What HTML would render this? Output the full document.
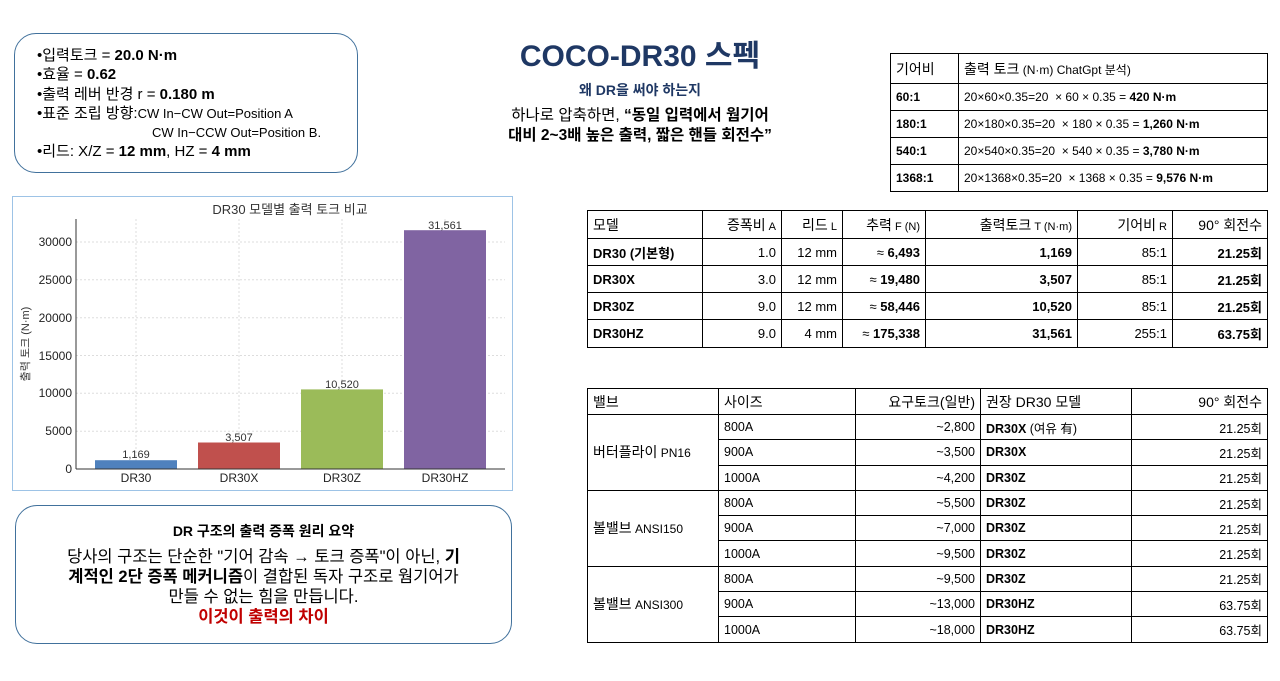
<!DOCTYPE html>
<html><head><meta charset="utf-8"><style>
*{margin:0;padding:0;box-sizing:border-box}
body{width:1280px;height:681px;background:#fff;position:relative;overflow:hidden;font-family:"Liberation Sans","Noto Sans CJK KR",sans-serif;color:#000}
.a{position:absolute}
.box{position:absolute;border:1px solid #41719c;border-radius:22px}
table{position:absolute;border-collapse:collapse;table-layout:fixed;font-size:13px}
td{border:1px solid #000;padding:0 5px;white-space:nowrap;overflow:hidden}
.r{text-align:right}.b{font-weight:bold}
</style></head><body>
<div class="box" style="left:14px;top:33px;width:344px;height:140px"></div>
<div class="a" style="left:37px;top:46px;font-size:15px;line-height:19.3px">
•입력토크 = <b>20.0 N·m</b><br>•효율 = <b>0.62</b><br>•출력 레버 반경 r = <b>0.180 m</b><br>•표준 조립 방향:<span style="font-size:13px">CW In−CW Out=Position A</span><br><span style="font-size:13px;padding-left:115px">CW In−CCW Out=Position B.</span><br>•리드: X/Z = <b>12 mm</b>, HZ = <b>4 mm</b></div>

<div class="a" style="left:440px;top:31px;width:400px;text-align:center;font-size:30px;font-weight:bold;color:#1f3864">COCO-DR30 스펙</div>
<div class="a" style="left:440px;top:80px;width:400px;text-align:center;font-size:14px;font-weight:bold;color:#1f3864">왜 DR을 써야 하는지</div>
<div class="a" style="left:440px;top:106px;width:400px;text-align:center;font-size:15.5px;line-height:20px">하나로 압축하면, <b>“동일 입력에서 웜기어<br>대비 2~3배 높은 출력, 짧은 핸들 회전수”</b></div>

<table style="left:890px;top:53px;width:378px">
<col style="width:68px"><col>
<tr style="height:30px"><td style="font-size:14px">기어비</td><td style="font-size:14px">출력 토크<span style="font-size:12px"> (N·m) ChatGpt 분석)</span></td></tr>
<tr style="height:27px"><td class="b" style="font-size:12px">60:1</td><td style="font-size:12px">20×60×0.35=20 &nbsp;× 60 × 0.35 = <b>420 N·m</b></td></tr>
<tr style="height:27px"><td class="b" style="font-size:12px">180:1</td><td style="font-size:12px">20×180×0.35=20 &nbsp;× 180 × 0.35 = <b>1,260 N·m</b></td></tr>
<tr style="height:27px"><td class="b" style="font-size:12px">540:1</td><td style="font-size:12px">20×540×0.35=20 &nbsp;× 540 × 0.35 = <b>3,780 N·m</b></td></tr>
<tr style="height:27px"><td class="b" style="font-size:12px">1368:1</td><td style="font-size:12px">20×1368×0.35=20 &nbsp;× 1368 × 0.35 = <b>9,576 N·m</b></td></tr>
</table>

<table style="left:587px;top:210px;width:681px">
<col style="width:115px"><col style="width:79px"><col style="width:61px"><col style="width:83px"><col style="width:152px"><col style="width:95px"><col>
<tr style="height:28px;font-size:14px"><td>모델</td><td class="r">증폭비<span style="font-size:11px"> A</span></td><td class="r">리드<span style="font-size:11px"> L</span></td><td class="r">추력<span style="font-size:11px"> F (N)</span></td><td class="r">출력토크<span style="font-size:11px"> T (N·m)</span></td><td class="r">기어비<span style="font-size:11px"> R</span></td><td class="r">90° 회전수</td></tr>
<tr style="height:27px"><td class="b">DR30 (기본형)</td><td class="r">1.0</td><td class="r">12 mm</td><td class="r">≈ <b>6,493</b></td><td class="r b">1,169</td><td class="r">85:1</td><td class="r b">21.25회</td></tr>
<tr style="height:27px"><td class="b">DR30X</td><td class="r">3.0</td><td class="r">12 mm</td><td class="r">≈ <b>19,480</b></td><td class="r b">3,507</td><td class="r">85:1</td><td class="r b">21.25회</td></tr>
<tr style="height:27px"><td class="b">DR30Z</td><td class="r">9.0</td><td class="r">12 mm</td><td class="r">≈ <b>58,446</b></td><td class="r b">10,520</td><td class="r">85:1</td><td class="r b">21.25회</td></tr>
<tr style="height:28px"><td class="b">DR30HZ</td><td class="r">9.0</td><td class="r">4 mm</td><td class="r">≈ <b>175,338</b></td><td class="r b">31,561</td><td class="r">255:1</td><td class="r b">63.75회</td></tr>
</table>

<table style="left:587px;top:388px;width:681px;font-size:12.5px">
<col style="width:131px"><col style="width:137px"><col style="width:125px"><col style="width:151px"><col>
<tr style="height:26px;font-size:14px"><td>밸브</td><td>사이즈</td><td class="r">요구토크(일반)</td><td>권장 DR30 모델</td><td class="r">90° 회전수</td></tr>
<tr style="height:25.3px"><td rowspan="3" style="font-size:14px">버터플라이<span style="font-size:12px"> PN16</span></td><td>800A</td><td class="r">~2,800</td><td><b>DR30X</b> (여유 有)</td><td class="r">21.25회</td></tr>
<tr style="height:25.3px"><td>900A</td><td class="r">~3,500</td><td class="b">DR30X</td><td class="r">21.25회</td></tr>
<tr style="height:25.3px"><td>1000A</td><td class="r">~4,200</td><td class="b">DR30Z</td><td class="r">21.25회</td></tr>
<tr style="height:25.3px"><td rowspan="3" style="font-size:14px">볼밸브<span style="font-size:12px"> ANSI150</span></td><td>800A</td><td class="r">~5,500</td><td class="b">DR30Z</td><td class="r">21.25회</td></tr>
<tr style="height:25.3px"><td>900A</td><td class="r">~7,000</td><td class="b">DR30Z</td><td class="r">21.25회</td></tr>
<tr style="height:25.3px"><td>1000A</td><td class="r">~9,500</td><td class="b">DR30Z</td><td class="r">21.25회</td></tr>
<tr style="height:25.3px"><td rowspan="3" style="font-size:14px">볼밸브<span style="font-size:12px"> ANSI300</span></td><td>800A</td><td class="r">~9,500</td><td class="b">DR30Z</td><td class="r">21.25회</td></tr>
<tr style="height:25.3px"><td>900A</td><td class="r">~13,000</td><td class="b">DR30HZ</td><td class="r">63.75회</td></tr>
<tr style="height:25.3px"><td>1000A</td><td class="r">~18,000</td><td class="b">DR30HZ</td><td class="r">63.75회</td></tr>
</table>

<svg class="a" style="left:0;top:0" width="520" height="500" font-family="Liberation Sans, DejaVu Sans, sans-serif">
<rect x="12.5" y="196.5" width="500" height="294" fill="#fff" stroke="#9dc3e6"/>
<text x="290" y="214" font-size="13" text-anchor="middle" fill="#333">DR30 모델별 출력 토크 비교</text>
<g stroke="#ddd" stroke-dasharray="2,2">
<line x1="76" x2="505" y1="393.3" y2="393.3"/><line x1="76" x2="505" y1="317.7" y2="317.7"/><line x1="76" x2="505" y1="242" y2="242"/>
<line x1="76" x2="505" y1="355.5" y2="355.5"/><line x1="76" x2="505" y1="279.8" y2="279.8"/><line x1="76" x2="505" y1="431.2" y2="431.2"/>
<line x1="136" x2="136" y1="219" y2="469"/><line x1="239" x2="239" y1="219" y2="469"/><line x1="342" x2="342" y1="219" y2="469"/><line x1="445" x2="445" y1="219" y2="469"/>
</g>
<rect x="95" y="460.2" width="82" height="8.8" fill="#4f81bd"/>
<rect x="198" y="442.5" width="82" height="26.5" fill="#c0504d"/>
<rect x="301" y="389.4" width="82" height="79.6" fill="#9bbb59"/>
<rect x="404" y="230.2" width="82" height="238.8" fill="#8064a2"/>
<line x1="76" x2="76" y1="219" y2="469" stroke="#333"/>
<line x1="76" x2="505" y1="469" y2="469" stroke="#333"/>
<g font-size="11" fill="#333" text-anchor="middle">
<text x="136" y="458">1,169</text><text x="239" y="441">3,507</text><text x="342" y="388">10,520</text><text x="445" y="229">31,561</text>
</g>
<g font-size="12" fill="#222" text-anchor="middle">
<text x="136" y="482">DR30</text><text x="239" y="482">DR30X</text><text x="342" y="482">DR30Z</text><text x="445" y="482">DR30HZ</text>
</g>
<g font-size="12" fill="#222" text-anchor="end">
<text x="72" y="473">0</text><text x="72" y="435">5000</text><text x="72" y="397">10000</text><text x="72" y="360">15000</text><text x="72" y="322">20000</text><text x="72" y="284">25000</text><text x="72" y="246">30000</text>
</g>
<text transform="translate(29,344) rotate(-90)" font-size="11" fill="#333" text-anchor="middle">출력 토크 (N·m)</text>
</svg>

<div class="box" style="left:15px;top:505px;width:497px;height:139px"></div>
<div class="a" style="left:15px;top:521px;width:497px;text-align:center;font-size:14px;font-weight:bold">DR 구조의 출력 증폭 원리 요약</div>
<div class="a" style="left:15px;top:547px;width:497px;text-align:center;font-size:16.5px;line-height:20px;white-space:nowrap">당사의 구조는 단순한 "기어 감속 → 토크 증폭"이 아닌, <b>기</b><br><b>계적인 2단 증폭 메커니즘</b>이 결합된 독자 구조로 웜기어가<br>만들 수 없는 힘을 만듭니다.<br><b style="color:#c00000">이것이 출력의 차이</b></div>
</body></html>
